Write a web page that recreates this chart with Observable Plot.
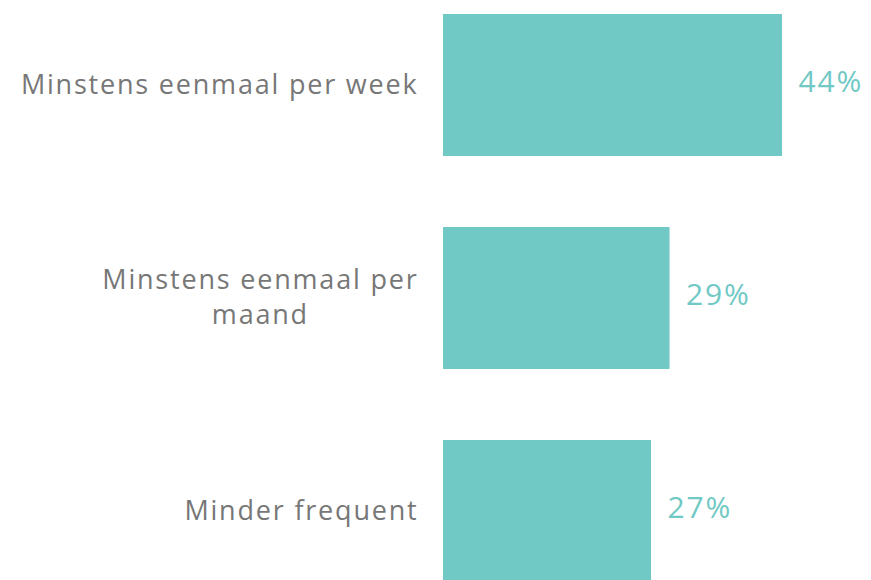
<!DOCTYPE html>
<html>
<head>
<meta charset="utf-8">
<script src="https://cdn.jsdelivr.net/npm/d3@7"></script>
<script src="https://cdn.jsdelivr.net/npm/@observablehq/plot@0.6"></script>
<style>
  html, body { margin: 0; padding: 0; background: #fff; overflow: hidden; }
  #chart svg { overflow: hidden; }
  #chart svg text { letter-spacing: 1.8px; }
</style>
</head>
<body>
<div id="chart"></div>
<script>
const categories = ["Minstens eenmaal per week", "Minstens eenmaal per maand", "Minder frequent"];
const labels = ["Minstens eenmaal per week", "Minstens eenmaal per\nmaand", "Minder frequent"];
const values = [44, 29.4, 27];
const valueLabels = ["44%", "29%", "27%"];

const data = categories.map((c, i) => ({category: c, value: values[i], label: valueLabels[i]}));
const labelOf = new Map(categories.map((c, i) => [c, labels[i]]));

const teal = "#70c9c4";
const grey = "#777777";
const font = "'Open Sans', sans-serif";

const chart = Plot.plot({
  width: 871,
  height: 580,
  marginLeft: 443,
  marginRight: 0,
  marginTop: 0,
  marginBottom: 0,
  style: {fontFamily: font, background: "#fff"},
  x: {domain: [0, 100], range: [443, 443 + 770.5], axis: null},
  y: {domain: categories, range: [0, 595], paddingInner: 0.335, paddingOuter: 0.061, label: null},
  marks: [
    Plot.barX(data, {x: "value", y: "category", fill: teal}),
    Plot.text(data, {
      x: "value", y: "category", text: "label",
      textAnchor: "start", dx: 16, dy: -3, fill: teal, fontSize: 30, fontFamily: font
    }),
    Plot.axisY({
      tickSize: 0, tickPadding: 25, fontSize: 27, fill: grey, dy: -3,
      tickFormat: d => labelOf.get(d), lineHeight: 1.3, label: null
    })
  ]
});

document.getElementById("chart").appendChild(chart);

// centre the lines of multi-line tick labels within their right-aligned block
chart.querySelectorAll("[aria-label='y-axis tick label'] text").forEach(t => {
  const spans = t.querySelectorAll("tspan");
  if (spans.length < 2) return;
  const widths = Array.from(spans, s => s.getComputedTextLength());
  const maxW = Math.max(...widths);
  const x0 = +(spans[0].getAttribute("x") || 0);
  t.setAttribute("text-anchor", "middle");
  spans.forEach(s => s.setAttribute("x", x0 - maxW / 2));
});
</script>
</body>
</html>
